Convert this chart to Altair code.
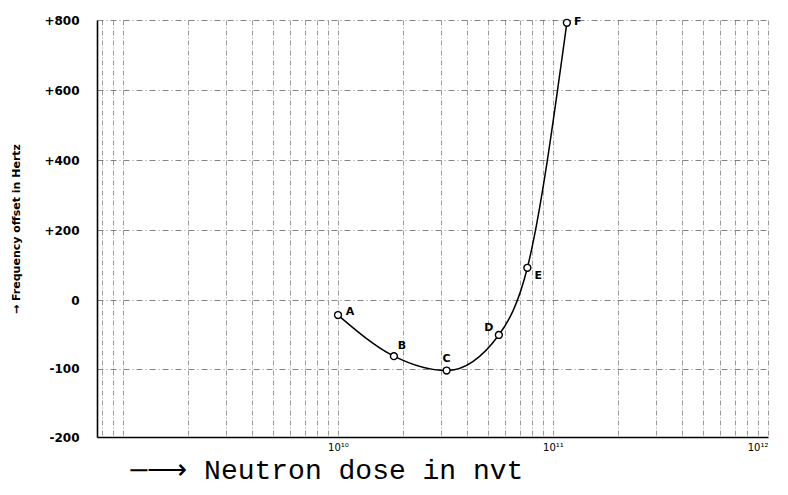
import altair as alt
import pandas as pd

# Data
labels = ["A", "B", "C", "D", "E", "F"]
dose = [1.0e10, 1.82e10, 3.2e10, 5.6e10, 7.6e10, 1.16e11]
offset = [-22, -82, -103, -51, 92, 792]

# label offsets (pixels) for each point letter
label_dx = {"A": 12, "B": 8, "C": 0, "D": -10, "E": 11, "F": 11}
label_dy = {"A": -3, "B": -10, "C": -12, "D": -7, "E": 8, "F": -1}

y_ticks = [-200, -100, 0, 200, 400, 600, 800]
decades = [1e9, 1e10, 1e11]
mantissas = [1, 2, 3, 4, 5, 6, 7, 8, 9]
x_grid = [8e8, 9e8] + [m * d for d in decades for m in mantissas] + [1e12]

df = pd.DataFrame({"label": labels, "dose": dose, "offset": offset})

W, H = 671, 417
xscale = alt.Scale(type="log", domain=[7.57e8, 1e12], nice=False)
yscale = alt.Scale(domain=[-200, 0, 800], range=[H, 280, 0], nice=False, zero=False)

x_axis = alt.Axis(
    values=x_grid,
    labelExpr="datum.value == 1e10 ? '10¹⁰' : datum.value == 1e11 ? '10¹¹' : datum.value == 1e12 ? '10¹²' : ''",
    ticks=False, grid=True, gridColor="#333", gridDash=[5, 2, 1, 2], gridWidth=0.7,
    gridOpacity=0.7, domainColor="black", domainWidth=1.6,
    labelFont="DejaVu Sans", labelFontSize=10, labelColor="black", labelPadding=5,
    title="─⟶ Neutron dose in nvt", titleFont="Liberation Mono", titleFontSize=28,
    titleFontWeight="normal", titleColor="black", titleAnchor="start", titleAlign="left",
    titleX=33, titleY=33, titleBaseline="middle",
)
y_axis = alt.Axis(
    values=y_ticks,
    labelExpr="datum.value > 0 ? '+' + datum.value : '' + datum.value",
    ticks=False, grid=True, gridColor="#333", gridDash=[6, 3, 1, 3], gridWidth=0.8,
    gridOpacity=0.75, domainColor="black", domainWidth=1.6,
    labelFont="DejaVu Sans", labelFontSize=12, labelFontWeight="bold", labelColor="black",
    labelPadding=18,
    title="→  Frequency offset in Hertz", titleFont="DejaVu Sans", titleFontSize=11,
    titleFontWeight="bold", titleColor="black", titleX=-81, titleAngle=-90,
    titleBaseline="middle",
)

base = alt.Chart(df)

line = base.mark_line(color="black", strokeWidth=1.5, interpolate="monotone").encode(
    x=alt.X("dose:Q", scale=xscale, axis=x_axis),
    y=alt.Y("offset:Q", scale=yscale, axis=y_axis),
)
pts = base.mark_point(shape="circle", size=48, filled=True, fill="white",
                      stroke="black", strokeWidth=1.4, opacity=1).encode(
    x=alt.X("dose:Q", scale=xscale),
    y=alt.Y("offset:Q", scale=yscale),
)

layers = [line, pts]
for lab in labels:
    layers.append(
        base.transform_filter(alt.datum.label == lab).mark_text(
            font="DejaVu Sans", fontSize=11, fontWeight="bold", color="black",
            dx=label_dx[lab], dy=label_dy[lab],
        ).encode(
            x=alt.X("dose:Q", scale=xscale),
            y=alt.Y("offset:Q", scale=yscale),
            text="label:N",
        )
    )

chart = alt.layer(*layers).properties(
    width=W, height=H,
    autosize=alt.AutoSizeParams(type="none"),
    padding={"left": 89, "top": 12, "right": 12, "bottom": 50},
    background="white",
).configure_view(stroke=None)

chart.save("out.html", embed_options={"renderer": "svg", "actions": False})
